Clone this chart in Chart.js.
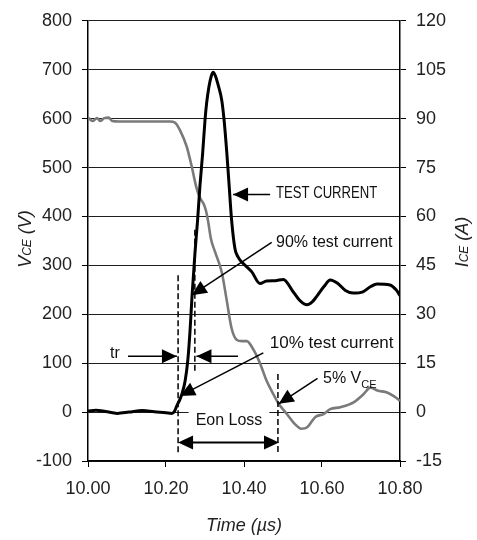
<!DOCTYPE html>
<html>
<head>
<meta charset="utf-8">
<script src="https://cdn.jsdelivr.net/npm/chart.js@4.4.1/dist/chart.umd.min.js"></script>
<style>
html, body { margin: 0; padding: 0; background: #fff; }
</style>
</head>
<body>
<canvas id="turnOn" width="477" height="540"></canvas>
<script>
// test current (A), right axis
const currentTime = [10.000, 10.020, 10.045, 10.075, 10.105, 10.140, 10.170, 10.200, 10.215, 10.222,
    10.228, 10.236, 10.241, 10.249, 10.256, 10.2615, 10.267, 10.2744, 10.2812, 10.287,
    10.294, 10.300, 10.304, 10.310, 10.316, 10.321, 10.327, 10.334, 10.343, 10.349,
    10.356, 10.362, 10.368, 10.377, 10.385, 10.394, 10.403, 10.420, 10.441, 10.458,
    10.480, 10.501, 10.526, 10.545, 10.561, 10.575, 10.586, 10.605, 10.621, 10.640,
    10.660, 10.680, 10.705, 10.725, 10.741, 10.774, 10.790, 10.800];
const currentAmps = [0.3, 0.6, 0.2, -0.4, 0.0, 0.5, 0.1, -0.2, -0.4, 0.3,
    2.0, 4.0, 5.6, 9.5, 16, 24.7, 36, 49, 59.2, 69.3,
    79.4, 89.5, 94.6, 99.7, 103, 104.2, 103, 100.2, 95.6, 89.5,
    79.4, 69.3, 59.2, 50, 47.5, 46, 45, 43, 39.4, 40.2,
    40.3, 40.7, 36.9, 34, 32.9, 33.8, 35.4, 38.5, 40.5, 39.5,
    37.3, 36.5, 36.9, 38.5, 39.3, 39, 37.5, 35.7];

// collector-emitter voltage (V), left axis
const voltageTime = [10.000, 10.012, 10.023, 10.031, 10.042, 10.053, 10.062, 10.080, 10.120, 10.160,
    10.210, 10.223, 10.236, 10.253, 10.266, 10.277, 10.287, 10.297, 10.303, 10.308,
    10.315, 10.326, 10.343, 10.355, 10.368, 10.381, 10.395, 10.407, 10.424, 10.441,
    10.458, 10.475, 10.488, 10.510, 10.530, 10.547, 10.562, 10.583, 10.604, 10.621,
    10.647, 10.681, 10.707, 10.724, 10.742, 10.767, 10.785, 10.800];
const voltageVolts = [602, 595, 601, 595, 601, 602, 595, 594, 594, 594,
    594, 592, 576, 543, 502, 462, 438, 425, 410, 390,
    355, 327, 286, 232, 172, 148, 145, 145, 128, 100,
    64, 37, 18, -4, -24, -34, -31, -10, -4, 6,
    10, 20, 37, 50, 44, 40, 32, 23];

const timeTicks = [10.0, 10.2, 10.4, 10.6, 10.8];
const voltTicks = [-100, 0, 100, 200, 300, 400, 500, 600, 700, 800];
const ampTicks = [-15, 0, 15, 30, 45, 60, 75, 90, 105, 120];

// annotations, in (time, volts) of the left axis
const dashMarks = [
    [10.231, 280, -84],
    [10.274, 373, 84],
    [10.487, 78, -84]
];
const arrowMarks = [
    [10.467, 445, 10.372, 445],   // TEST CURRENT
    [10.471, 347, 10.266, 239],   // 90%
    [10.4495, 121, 10.236, 33],   // 10%
    [10.5885, 69, 10.489, 17],    // 5% VCE
    [10.1026, 114, 10.228, 114],  // tr left
    [10.3846, 114, 10.278, 114]   // tr right
];
const eonSpan = [10.231, 10.4897, -62];

const FONT = '"Liberation Sans", Arial, sans-serif';

/**
 * TurnOnChart
 *
 */
class TurnOnChart {
    /**
     * canvas id
     *
     */
    id;
    /**
     * chart
     *
     */
    chart;
    /**
     * config object
     *
     */
    chartObj;

    /**
     * constructor
     *
     * @param {string} id canvas id
     */
    constructor(id) {
        this.id = id;
        this.chart = null;
        this.chartObj = {};
        this.chartObj.type = 'line';
        this.chartObj.data = {};
        this.chartObj.data.datasets = [
            {
                label: 'ICE',
                data: currentTime.map((t, i) => ({ x: t, y: currentAmps[i] })),
                yAxisID: 'yI',
                borderColor: '#000',
                borderWidth: 3,
                pointRadius: 0,
                cubicInterpolationMode: 'monotone'
            },
            {
                label: 'VCE',
                data: voltageTime.map((t, i) => ({ x: t, y: voltageVolts[i] })),
                yAxisID: 'yV',
                borderColor: '#7a7a7a',
                borderWidth: 2.6,
                pointRadius: 0,
                cubicInterpolationMode: 'monotone'
            }
        ];
        this.chartObj.options = {
            responsive: false,
            animation: false,
            layout: { padding: { top: 16, left: 0, right: 0, bottom: 0 } },
            plugins: { legend: { display: false }, tooltip: { enabled: false } },
            scales: {
                x: this.axis('bottom', 10, 10.8, timeTicks, s => { s.height = 79; }, v => v.toFixed(2), false, 11),
                yV: this.axis('left', -100, 800, voltTicks, s => { s.width = 88; }, v => String(v), true, 10),
                yI: this.axis('right', -15, 120, ampTicks, s => { s.width = 77; }, v => String(v), false, 10)
            }
        };
        this.chartObj.plugins = [notesPlugin];
    }

    /**
     * build one axis
     *
     */
    axis(position, min, max, ticks, fit, fmt, grid, pad) {
        return {
            type: 'linear',
            position: position,
            min: min,
            max: max,
            afterBuildTicks: s => { s.ticks = ticks.map(v => ({ value: v })); },
            afterFit: fit,
            ticks: {
                callback: fmt,
                color: '#222',
                padding: pad,
                maxRotation: 0,
                autoSkip: false,
                font: { family: FONT, size: 18 }
            },
            grid: {
                drawOnChartArea: grid,
                drawTicks: true,
                tickLength: 6,
                color: grid ? '#1e1e1e' : '#000',
                tickColor: '#000',
                lineWidth: 1
            },
            border: { color: '#000', width: 1.5 }
        };
    }

    /**
     * create chart
     *
     * @returns {TurnOnChart} this
     */
    create() {
        if (this.chart) {
            this.chart.destroy();
        }
        this.chart = new Chart(document.getElementById(this.id), this.chartObj);
        return this;
    }
}

function arrowHead(ctx, x1, y1, x2, y2) {
    const a = Math.atan2(y2 - y1, x2 - x1);
    const len = 15, half = 7;
    ctx.beginPath();
    ctx.moveTo(x2, y2);
    ctx.lineTo(x2 - len * Math.cos(a) + half * Math.sin(a), y2 - len * Math.sin(a) - half * Math.cos(a));
    ctx.lineTo(x2 - len * Math.cos(a) - half * Math.sin(a), y2 - len * Math.sin(a) + half * Math.cos(a));
    ctx.closePath();
    ctx.fill();
}

function arrow(ctx, x1, y1, x2, y2) {
    ctx.beginPath();
    ctx.moveTo(x1, y1);
    ctx.lineTo(x2, y2);
    ctx.stroke();
    arrowHead(ctx, x1, y1, x2, y2);
}

// text made of runs: [text, size, dy, style]
function runs(ctx, parts, x, y, center) {
    let w = 0;
    parts.forEach(p => { ctx.font = p[3] + ' ' + p[1] + 'px ' + FONT; w += ctx.measureText(p[0]).width; });
    let cx = center ? x - w / 2 : x;
    parts.forEach(p => {
        ctx.font = p[3] + ' ' + p[1] + 'px ' + FONT;
        ctx.fillText(p[0], cx, y + p[2]);
        cx += ctx.measureText(p[0]).width;
    });
}

const notesPlugin = {
    id: 'notes',
    afterDatasetsDraw(chart) {
        const ctx = chart.ctx;
        const X = t => chart.scales.x.getPixelForValue(t);
        const Y = v => chart.scales.yV.getPixelForValue(v);
        ctx.save();
        ctx.strokeStyle = '#000';
        ctx.fillStyle = '#000';

        // dashed markers
        ctx.lineWidth = 1.5;
        ctx.setLineDash([6, 3]);
        dashMarks.forEach(d => {
            ctx.beginPath();
            ctx.moveTo(X(d[0]), Y(d[1]));
            ctx.lineTo(X(d[0]), Y(d[2]));
            ctx.stroke();
        });
        ctx.setLineDash([]);

        // pointer arrows
        ctx.lineWidth = 1.5;
        arrowMarks.forEach(a => arrow(ctx, X(a[0]), Y(a[1]), X(a[2]), Y(a[3])));

        // Eon Loss span
        const ex1 = X(eonSpan[0]), ex2 = X(eonSpan[1]), ey = Y(eonSpan[2]);
        ctx.lineWidth = 2;
        ctx.beginPath();
        ctx.moveTo(ex1 + 10, ey);
        ctx.lineTo(ex2 - 10, ey);
        ctx.stroke();
        arrowHead(ctx, ex2, ey, ex1, ey);
        arrowHead(ctx, ex1, ey, ex2, ey);

        // labels
        ctx.textBaseline = 'alphabetic';
        ctx.textAlign = 'left';
        ctx.fillStyle = '#111';

        // Eon Loss with white box over the zero line
        ctx.font = '16px ' + FONT;
        const ew = ctx.measureText('Eon Loss').width;
        const etx = X(10.3615), ety = Y(-27.3);
        ctx.fillStyle = '#fff';
        ctx.fillRect(etx - ew / 2 - 7, ety - 20, ew + 14, 28);
        ctx.fillStyle = '#111';
        ctx.textAlign = 'center';
        ctx.fillText('Eon Loss', etx, ety);
        ctx.textAlign = 'left';

        // TEST CURRENT is set narrow
        ctx.save();
        ctx.translate(X(10.482), Y(438));
        ctx.scale(0.82, 1);
        ctx.font = '16px ' + FONT;
        ctx.fillText('TEST CURRENT', 0, 0);
        ctx.restore();

        ctx.font = '16px ' + FONT;
        ctx.fillText('90% test current', X(10.482), Y(337));
        ctx.font = '17px ' + FONT;
        ctx.fillText('10% test current', X(10.466), Y(132));
        ctx.font = '16px ' + FONT;
        ctx.fillText('tr', X(10.0564), Y(110));
        runs(ctx, [['5% V', 16, 0, ''], ['CE', 11, 5, '']], X(10.6026), Y(60), false);
        ctx.restore();
    },
    afterDraw(chart) {
        const ctx = chart.ctx;
        ctx.save();
        ctx.fillStyle = '#222';
        ctx.textBaseline = 'alphabetic';

        // left axis title
        ctx.save();
        ctx.translate(31, 239);
        ctx.rotate(-Math.PI / 2);
        runs(ctx, [['V', 18, 0, 'italic'], ['CE', 12, 0, 'italic'], [' (V)', 18, 0, 'italic']], 0, 0, true);
        ctx.restore();

        // right axis title
        ctx.save();
        ctx.translate(468, 242);
        ctx.rotate(-Math.PI / 2);
        runs(ctx, [['I', 18, 0, 'italic'], ['CE', 12, 0, 'italic'], [' (A)', 18, 0, 'italic']], 0, 0, true);
        ctx.restore();

        // bottom title
        runs(ctx, [['Time (\u00b5s)', 18, 0, 'italic']], (chart.chartArea.left + chart.chartArea.right) / 2, 531, true);
        ctx.restore();
    }
};

new TurnOnChart('turnOn').create();
</script>
</body>
</html>
